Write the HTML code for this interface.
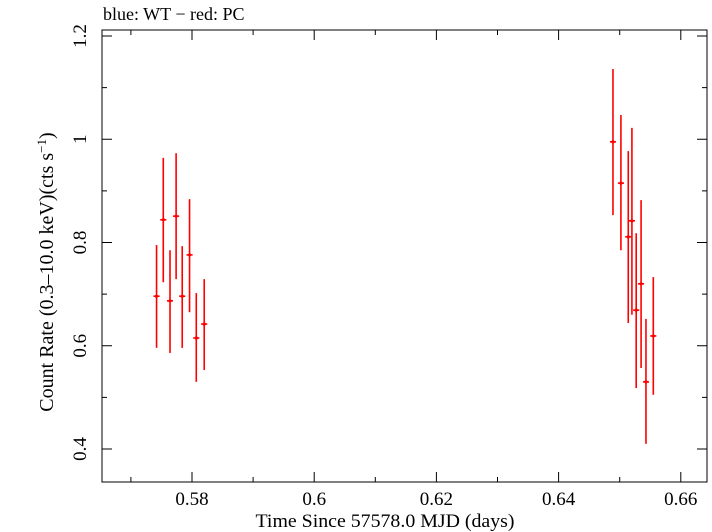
<!DOCTYPE html>
<html><head><meta charset="utf-8"><style>
body{margin:0;background:#fff}
svg{display:block;font-family:"Liberation Serif",serif}
</style></head><body>
<svg id="c" width="712" height="532" viewBox="0 0 712 532"></svg>
<script>
const xs=[0.5742,0.5753,0.5764,0.5774,0.5784,0.5796,0.5807,0.5820,0.6489,0.6502,0.6514,0.6520,0.6527,0.6535,0.6543,0.6555];
const ys=[0.696,0.844,0.687,0.851,0.696,0.776,0.615,0.642,0.995,0.915,0.811,0.842,0.669,0.720,0.530,0.619];
const yHi=[0.795,0.964,0.785,0.973,0.793,0.884,0.702,0.729,1.136,1.047,0.977,1.022,0.818,0.882,0.652,0.733];
const yLo=[0.596,0.723,0.586,0.729,0.596,0.665,0.530,0.553,0.853,0.785,0.644,0.660,0.518,0.557,0.410,0.505];
const xErr=0.0005;
const xTicks=[0.58,0.6,0.62,0.64,0.66];
const xTickLabels=["0.58","0.6","0.62","0.64","0.66"];
const yTicks=[0.4,0.6,0.8,1.0,1.2];
const yTickLabels=["0.4","0.6","0.8","1","1.2"];
const L=102,R=707,T=30,B=482;
const X=v=>192+(v-0.58)*6110;
const Y=v=>449-(v-0.4)*516.25;
const svg=document.getElementById('c');
const NS='http://www.w3.org/2000/svg';
function mk(tag,attrs,parent){const e=document.createElementNS(NS,tag);for(const k in attrs)e.setAttribute(k,attrs[k]);(parent||svg).appendChild(e);return e;}
const frame=mk('rect',{x:L,y:T,width:R-L,height:B-T,fill:'none',stroke:'#000','stroke-width':1});


const ax=mk('g',{stroke:'#000','stroke-width':1});


for(let k=56;k<=67;k++){const v=k/100;const p=X(v);if(p<L||p>R)continue;const len=(k%2===0)?10:5;
mk('line',{x1:p,y1:B,x2:p,y2:B-len},ax);mk('line',{x1:p,y1:T,x2:p,y2:T+len},ax);}
for(let k=3;k<=12;k++){const v=k/10;const p=Y(v);if(p<T||p>B)continue;const len=(k%2===0)?10:5;
mk('line',{x1:L,y1:p,x2:L+len,y2:p},ax);mk('line',{x1:R,y1:p,x2:R-len,y2:p},ax);}
xTicks.forEach((v,i)=>{const t=mk('text',{x:X(v),y:505,'text-anchor':'middle','font-size':19});t.textContent=xTickLabels[i];
});
yTicks.forEach((v,i)=>{const p=Y(v);const t=mk('text',{x:86,y:p,'text-anchor':'middle','font-size':19,transform:`rotate(-90 86 ${p})`});t.textContent=yTickLabels[i];
});
const xt=mk('text',{x:385,y:527,'text-anchor':'middle','font-size':19,textLength:259,lengthAdjust:'spacingAndGlyphs'});xt.textContent='Time Since 57578.0 MJD (days)';

const yt=mk('text',{x:53,y:272,'text-anchor':'middle','font-size':20,transform:'rotate(-90 53 272)'});
yt.innerHTML='Count Rate (0.3\u201310.0 keV)(cts s<tspan dy="-7" font-size="13">\u22121</tspan><tspan dy="7">)</tspan>';

const tt=mk('text',{x:103,y:20,'font-size':18});tt.textContent='blue: WT \u2212 red: PC';

const g=mk('g',{stroke:'#f00','stroke-width':1.6});

xs.forEach((v,i)=>{const pt=mk('g',{},g);

mk('line',{x1:X(v),y1:Y(yHi[i]),x2:X(v),y2:Y(yLo[i])},pt);
mk('line',{x1:X(v-xErr),y1:Y(ys[i]),x2:X(v+xErr),y2:Y(ys[i])},pt);
mk('circle',{cx:X(v),cy:Y(ys[i]),r:1.6,fill:'#f00',stroke:'none'},pt);});
</script>
</body></html>
